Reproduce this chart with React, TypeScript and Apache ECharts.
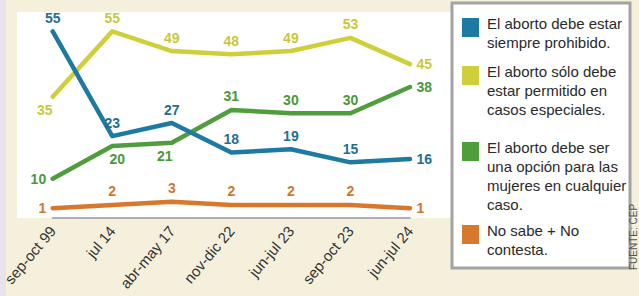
import React, { useEffect, useRef } from "react";
import * as echarts from "echarts";

const categories = ["sep-oct 99", "jul 14", "abr-may 17", "nov-dic 22", "jun-jul 23", "sep-oct 23", "jun-jul 24"];
const prohibido = [55, 23, 27, 18, 19, 15, 16];
const especiales = [35, 55, 49, 48, 49, 53, 45];
const opcion = [10, 20, 21, 31, 30, 30, 38];
const noSabe = [1, 2, 3, 2, 2, 2, 1];

const seriesNames = [
  "El aborto debe estar siempre prohibido.",
  "El aborto sólo debe estar permitido en casos especiales.",
  "El aborto debe ser una opción para las mujeres en cualquier caso.",
  "No sabe + No contesta.",
];
const legendLines = [
  ["El aborto debe estar", "siempre prohibido."],
  ["El aborto sólo debe", "estar permitido en", "casos especiales."],
  ["El aborto debe ser", "una opción para las", "mujeres en cualquier", "caso."],
  ["No sabe + No", "contesta."],
];
const colors = ["#1c7aa3", "#cfcf3c", "#4f9d3d", "#d7782c"];
const labelColors = ["#1f6f94", "#c9c83a", "#4b973a", "#d0772e"];

const labelPos = [
  ["top", "top", "top", "top", "top", "top", "right"],
  ["bottom", "top", "top", "top", "top", "top", "right"],
  ["left", "bottom", "bottom", "top", "top", "top", "right"],
  ["left", "top", "top", "top", "top", "top", "right"],
];
const labelOffset: Record<string, number[]> = {
  "1-0": [-8, 0],
  "2-1": [5, 0],
  "2-2": [-7, 0],
};

const legendTops = [18, 66, 142, 225];

export default function App() {
  const ref = useRef<HTMLDivElement>(null);
  useEffect(() => {
    if (!ref.current) return;
    document.body.style.margin = "0";
    const chart = echarts.init(ref.current, undefined, { renderer: "svg" });
    const all = [prohibido, especiales, opcion, noSabe];
    const series = all.map((vals, si) => ({
      name: seriesNames[si],
      type: "line",
      data: vals.map((v, i) => ({
        value: v,
        label: {
          position: labelPos[si][i],
          offset: labelOffset[`${si}-${i}`] || [0, 0],
        },
      })),
      symbol: "circle",
      symbolSize: 3,
      showSymbol: true,
      lineStyle: { width: 4.5, color: colors[si], cap: "round", join: "round" },
      itemStyle: { color: colors[si] },
      z: 10 - si,
      label: {
        show: true,
        color: labelColors[si],
        fontSize: 14,
        fontWeight: 600,
        fontFamily: "Liberation Sans, Arial, sans-serif",
        distance: 5,
      },
    }));

    const legendGraphics: any[] = [];
    legendLines.forEach((lines, i) => {
      legendGraphics.push({
        type: "rect",
        shape: { x: 462, y: legendTops[i], width: 17, height: 19 },
        style: { fill: colors[i] },
      });
      legendGraphics.push({
        type: "text",
        x: 487,
        y: legendTops[i] - 4,
        style: {
          text: lines.join("\n"),
          fill: "#2a2a2a",
          font: "15px 'Liberation Sans', Arial, sans-serif",
          lineHeight: 19,
        },
      });
    });

    chart.setOption({
      animation: false,
      backgroundColor: "#f4f0dc",
      grid: { left: 44, right: 229, top: 15, bottom: 78 },
      xAxis: {
        type: "category",
        data: categories,
        boundaryGap: false,
        axisLine: { show: true, onZero: false, lineStyle: { color: "#b0b0b0", width: 2 } },
        axisTick: { show: false },
        axisLabel: {
          rotate: 50,
          color: "#333",
          fontSize: 15,
          fontFamily: "Liberation Sans, Arial, sans-serif",
          margin: 10,
          interval: 0,
        },
        splitLine: { show: false },
      },
      yAxis: {
        type: "value",
        min: -2,
        max: 60,
        show: false,
        splitLine: { show: false },
      },
      graphic: [
        { type: "rect", z: -10, shape: { x: 0, y: 0, width: 6, height: 296 }, style: { fill: "#e7e3ec" } },
        { type: "rect", z: -10, shape: { x: 17, y: 12, width: 435, height: 206 }, style: { fill: "#ffffff" } },
        {
          type: "rect",
          z: -5,
          shape: { x: 452, y: 3, width: 178, height: 265 },
          style: { fill: "#ffffff", stroke: "#a3a3a3", lineWidth: 3 },
        },
        ...legendGraphics,
        {
          type: "text",
          x: 628,
          y: 270,
          rotation: Math.PI / 2,
          style: {
            text: "FUENTE: CEP",
            fill: "#555",
            font: "10px 'Liberation Sans', Arial, sans-serif",
          },
        },
      ],
      series,
    });
    return () => chart.dispose();
  }, []);
  return <div ref={ref} style={{ width: 639, height: 296 }} />;
}
